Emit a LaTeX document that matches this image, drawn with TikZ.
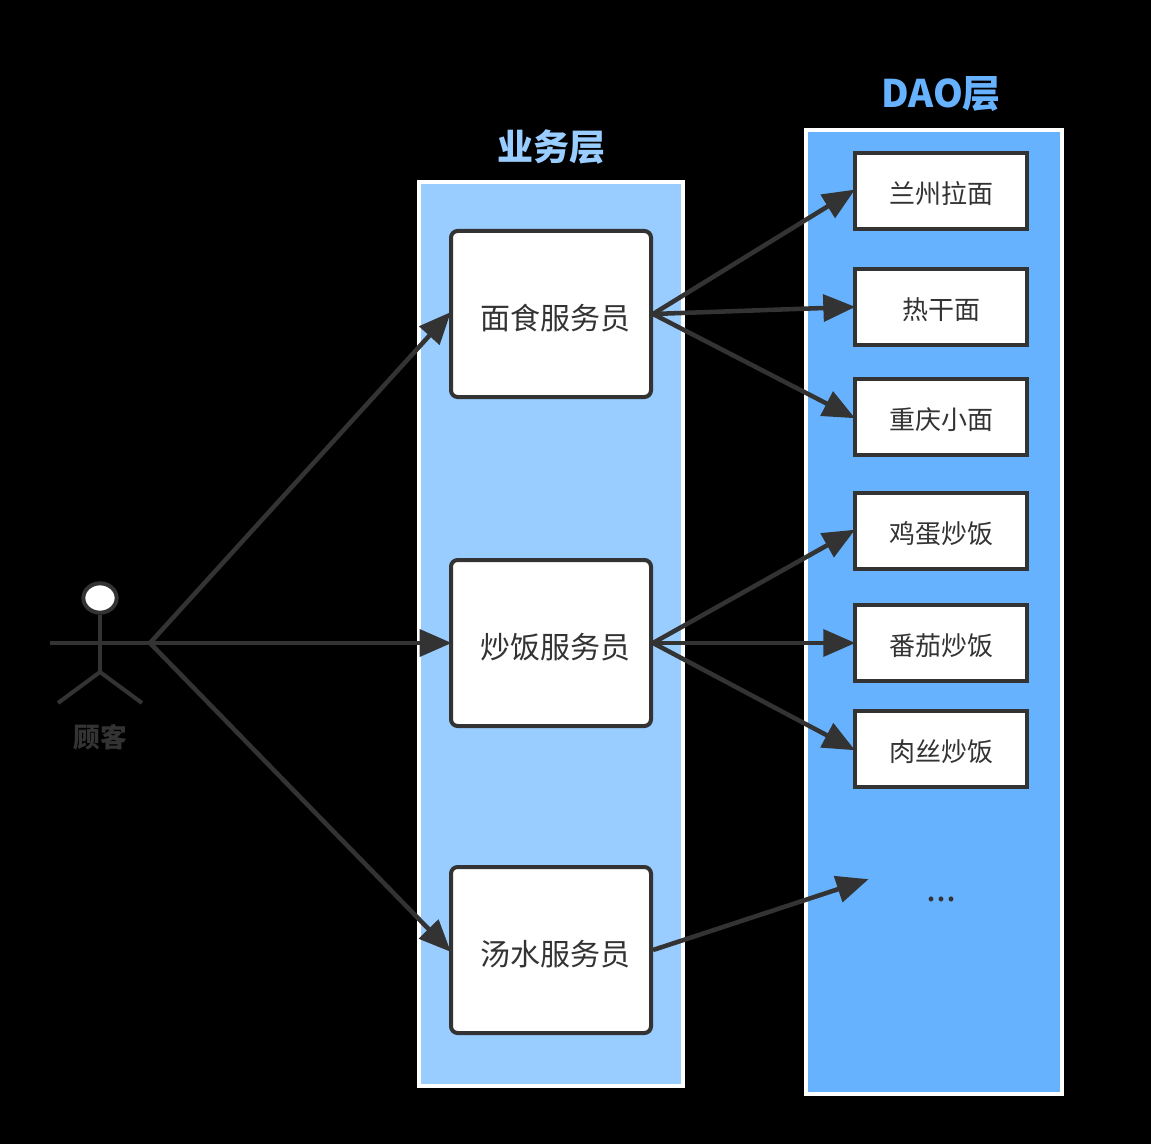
\documentclass[tikz,border=0pt]{standalone}
\usepackage{fontspec}
\setmainfont{Noto Sans CJK SC}
\usetikzlibrary{arrows.meta,shapes.geometric}
\definecolor{ink}{HTML}{333333}
\definecolor{layerlight}{HTML}{99CCFF}
\definecolor{layerdeep}{HTML}{66B2FF}
\tikzset{
  x=0.75pt,y=-0.75pt,
  staffbox/.style={draw=ink,fill=white,line width=3pt,rounded corners=5pt,minimum width=150pt,minimum height=124.5pt,inner sep=0pt,font=\fontsize{22.5}{26}\selectfont,text=ink,text height=23pt,text depth=0pt},
  dishbox/.style={draw=ink,fill=white,line width=3pt,minimum width=129.5pt,minimum height=57pt,inner sep=0pt,font=\fontsize{19.5}{24}\selectfont,text=ink,text height=19.4pt,text depth=0pt},
  title/.style={inner sep=0pt,font=\fontsize{27}{32}\selectfont\bfseries},
  flow/.style={draw=ink,line width=3.4pt,-{Triangle[length=24pt,width=20pt]},shorten >=-2pt},
  limb/.style={draw=ink,line width=3pt},
}
\begin{document}
\begin{tikzpicture}
\useasboundingbox (0,0) rectangle (1151,1144);
\fill[black] (0,0) rectangle (1151,1144);

% layer panels
\draw[white,line width=3pt,fill=layerlight] (419,182) rectangle (683,1086);
\draw[white,line width=3pt,fill=layerdeep] (805.5,130.5) rectangle (1062,1094);
\node[title,text=layerlight] (bizlabel) at (551,147) {业务层};
\node[title,text=layerdeep,font=\fontsize{28.5}{32}\selectfont\bfseries] (daolabel) at (941,94) {DAO层};

% service staff
\node[staffbox] (noodle) at (551,314) {\hspace*{6pt}面食服务员};
\node[staffbox] (rice) at (551,643) {\hspace*{6pt}炒饭服务员};
\node[staffbox] (soup) at (551,950) {\hspace*{6pt}汤水服务员};

% dishes
\node[dishbox] (lanzhou) at (941,191) {兰州拉面};
\node[dishbox] (regan) at (941,307) {热干面};
\node[dishbox] (chongqing) at (941,417) {重庆小面};
\node[dishbox] (egg) at (941,531) {鸡蛋炒饭};
\node[dishbox] (tomato) at (941,643) {番茄炒饭};
\node[dishbox] (pork) at (941,749) {肉丝炒饭};
\node[inner sep=0pt,text=ink,font=\fontsize{27}{30}\selectfont] (more) at (941,899) {...};

% customer figure
\node[draw=ink,fill=white,line width=3pt,ellipse,minimum width=25pt,minimum height=22pt,inner sep=0pt] (head) at (100,598) {};
\coordinate (hip) at (100,672);
\coordinate (handL) at (50,643);
\coordinate (handR) at (150,643);
\coordinate (footL) at (58,703);
\coordinate (footR) at (142,703);
\draw[limb] (head.south) -- (hip);
\draw[limb] (handL) -- (handR);
\draw[limb] (footL) -- (hip) -- (footR);
\node[inner sep=0pt,text=ink,font=\fontsize{20}{24}\selectfont\bfseries] (customer) at (100,737) {顾客};

% requests from the customer to the staff
\draw[flow] (handR) -- (noodle.west);
\draw[flow] (handR) -- (rice.west);
\draw[flow] (handR) -- (soup.west);

% staff to dishes
\draw[flow] (noodle.east) -- (lanzhou.west);
\draw[flow] (noodle.east) -- (regan.west);
\draw[flow] (noodle.east) -- (chongqing.west);
\draw[flow] (rice.east) -- (egg.west);
\draw[flow] (rice.east) -- (tomato.west);
\draw[flow] (rice.east) -- (pork.west);
\coordinate (moreIn) at (866,880);
\draw[flow] (soup.east) -- (moreIn);
\end{tikzpicture}
\end{document}
